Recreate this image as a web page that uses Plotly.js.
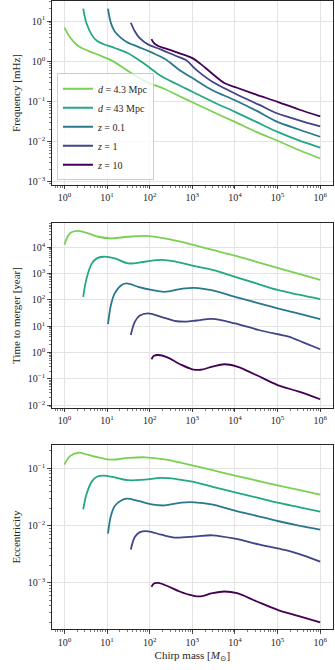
<!DOCTYPE html>
<html>
<head>
<meta charset="utf-8">
<script src="https://cdn.plot.ly/plotly-3.0.1.min.js"></script>
<style>
  html, body { margin: 0; padding: 0; background: #fff; }
  #chart { width: 335px; height: 670px; }
</style>
</head>
<body>
<div id="chart"></div>
<script>
// chirp mass samples [Msun] for each source
const massNear = [1, 1.35, 2.1, 3.6, 6.2, 12.6, 31, 79, 224, 500, 1000, 3160, 1e4, 3.16e4, 1e5, 3.16e5, 1e6];
const freqNear = [6.9, 3.98, 2.4, 1.82, 1.45, 1.05, 0.575, 0.316, 0.204, 0.135, 0.0955, 0.0537, 0.0309, 0.0174, 0.0105, 0.00617, 0.0038];
const timeNear = [12600, 33900, 41700, 33900, 25100, 21900, 25100, 26900, 21900, 16600, 12600, 7760, 4790, 2820, 1660, 977, 575];
const eccNear = [0.116, 0.162, 0.186, 0.170, 0.155, 0.141, 0.151, 0.155, 0.143, 0.126, 0.112, 0.0912, 0.0741, 0.0610, 0.0501, 0.0417, 0.0347];

const massMid = [2.75, 3.3, 4.4, 5.75, 8.1, 15.1, 31, 76, 186, 417, 1000, 3160, 1e4, 3.16e4, 1e5, 3.16e5, 1e6];
const freqMid = [20.4, 8.7, 4.47, 3.24, 2.69, 2.14, 1.58, 0.85, 0.427, 0.275, 0.174, 0.0955, 0.055, 0.0309, 0.0174, 0.0107, 0.0071];
const timeMid = [132, 661, 2450, 3800, 4370, 3800, 2450, 2820, 3310, 2820, 2000, 1350, 759, 427, 240, 158, 107];
const eccMid = [0.0191, 0.0355, 0.0589, 0.0708, 0.0741, 0.0692, 0.0617, 0.0631, 0.0676, 0.0646, 0.0582, 0.0468, 0.038, 0.0309, 0.0251, 0.0209, 0.0174];

const massZ01 = [10.5, 12.3, 15.1, 21.9, 28.8, 53.7, 110, 224, 550, 1120, 2820, 1e4, 3.16e4, 1e5, 3.16e5, 1e6];
const freqZ01 = [20.4, 8.9, 5.5, 3.72, 3.02, 2.29, 1.66, 1.15, 0.562, 0.355, 0.195, 0.107, 0.0589, 0.0309, 0.02, 0.0132];
const timeZ01 = [12, 64.6, 178, 372, 427, 316, 240, 204, 263, 288, 234, 132, 79.4, 47.9, 30.2, 18.6];
const eccZ01 = [0.00724, 0.0148, 0.0219, 0.0275, 0.0295, 0.0269, 0.0234, 0.0224, 0.0251, 0.0254, 0.0234, 0.0182, 0.0148, 0.012, 0.01, 0.0085];

const massZ1 = [36, 44.7, 57.5, 91, 186, 380, 708, 1260, 2950, 1e4, 3.63e4, 1e5, 1.82e5, 3.98e5, 1e6];
const freqZ1 = [9.1, 5.6, 3.8, 2.63, 1.95, 1.41, 1.07, 0.603, 0.309, 0.158, 0.0832, 0.0501, 0.0407, 0.0316, 0.024];
const timeZ1 = [4.68, 14.8, 25.1, 30.9, 22.9, 16.2, 15.1, 16.6, 19.1, 12.9, 7.24, 5.0, 4.07, 2.45, 1.35];
const eccZ1 = [0.0038, 0.0063, 0.00759, 0.00794, 0.00692, 0.00617, 0.0063, 0.00646, 0.00676, 0.00589, 0.00468, 0.00398, 0.00363, 0.00302, 0.00234];

const massZ10 = [110, 126, 158, 251, 501, 1000, 1580, 2950, 5620, 11200, 31600, 1e5, 3.16e5, 1e6];
const freqZ10 = [3.55, 2.82, 2.40, 2.04, 1.58, 1.2, 0.85, 0.49, 0.288, 0.219, 0.148, 0.0977, 0.063, 0.0427];
const timeZ10 = [0.562, 0.759, 0.813, 0.676, 0.372, 0.234, 0.224, 0.295, 0.363, 0.295, 0.141, 0.0589, 0.0331, 0.017];
const eccZ10 = [0.000851, 0.000977, 0.001, 0.000891, 0.000708, 0.000603, 0.000582, 0.000661, 0.000708, 0.000661, 0.000479, 0.000339, 0.000263, 0.000204];

const sourceNames = ['<i>d</i> = 4.3 Mpc', '<i>d</i> = 43 Mpc', '<i>z</i> = 0.1', '<i>z</i> = 1', '<i>z</i> = 10'];
const sourceColors = ['#7ad151', '#22a884', '#2a788e', '#414487', '#440154'];

const massTicks = [1, 10, 100, 1e3, 1e4, 1e5, 1e6];
const massTickText = ['10<sup>0</sup>', '10<sup>1</sup>', '10<sup>2</sup>', '10<sup>3</sup>', '10<sup>4</sup>', '10<sup>5</sup>', '10<sup>6</sup>'];
const freqTicks = [1e-3, 1e-2, 1e-1, 1, 10];
const freqTickText = ['10<sup>−3</sup>', '10<sup>−2</sup>', '10<sup>−1</sup>', '10<sup>0</sup>', '10<sup>1</sup>'];
const timeTicks = [1e-2, 1e-1, 1, 10, 100, 1e3, 1e4];
const timeTickText = ['10<sup>−2</sup>', '10<sup>−1</sup>', '10<sup>0</sup>', '10<sup>1</sup>', '10<sup>2</sup>', '10<sup>3</sup>', '10<sup>4</sup>'];
const eccTicks = [1e-3, 1e-2, 1e-1];
const eccTickText = ['10<sup>−3</sup>', '10<sup>−2</sup>', '10<sup>−1</sup>'];

const masses = [massNear, massMid, massZ01, massZ1, massZ10];
const panelValues = [
    [freqNear, freqMid, freqZ01, freqZ1, freqZ10],
    [timeNear, timeMid, timeZ01, timeZ1, timeZ10],
    [eccNear, eccMid, eccZ01, eccZ1, eccZ10]
];
const panelAxes = [['x', 'y'], ['x2', 'y2'], ['x3', 'y3']];

const font = 'Liberation Serif, DejaVu Serif, serif';
const ink = '#262626';

const traces = [];
panelValues.forEach((series, p) => {
    series.forEach((vals, i) => {
        traces.push({
            x: masses[i],
            y: vals,
            xaxis: panelAxes[p][0],
            yaxis: panelAxes[p][1],
            mode: 'lines',
            name: sourceNames[i],
            legendgroup: 'src' + i,
            showlegend: p === 0,
            line: { color: sourceColors[i], width: 1.8, shape: 'spline', smoothing: 1 },
            hoverinfo: 'skip'
        });
    });
});

function axisBase() {
    return {
        type: 'log',
        ticks: 'outside',
        ticklen: 3.5,
        tickwidth: 0.8,
        tickcolor: ink,
        showline: true,
        mirror: true,
        linecolor: ink,
        linewidth: 1,
        showgrid: true,
        gridcolor: '#e3e3e3',
        gridwidth: 1,
        zeroline: false,
        tickmode: 'array',
        tickfont: { family: font, size: 10, color: ink },
        minor: { ticks: 'outside', ticklen: 2, tickwidth: 0.6, tickcolor: ink, dtick: 'D1', showgrid: false }
    };
}

function xAxis(anchor, title) {
    const ax = axisBase();
    ax.anchor = anchor;
    ax.domain = [0.1543, 0.994];
    ax.range = [-0.3, 6.3];
    ax.tickvals = massTicks;
    ax.ticktext = massTickText;
    if (title) ax.title = { text: title, font: { family: font, size: 11, color: ink }, standoff: 4 };
    return ax;
}

function yAxis(anchor, domain, range, vals, text, title) {
    const ax = axisBase();
    ax.anchor = anchor;
    ax.domain = domain;
    ax.range = range;
    ax.tickvals = vals;
    ax.ticktext = text;
    ax.title = { text: title, font: { family: font, size: 11, color: ink } };
    return ax;
}

const layout = {
    width: 335,
    height: 670,
    margin: { l: 0, r: 0, t: 0, b: 0 },
    paper_bgcolor: '#fff',
    plot_bgcolor: '#fff',
    font: { family: font, color: ink },
    xaxis: xAxis('y'),
    xaxis2: xAxis('y2'),
    xaxis3: xAxis('y3', 'Chirp mass [<i>M</i><sub>⊙</sub>]'),
    yaxis: yAxis('x', [0.7239, 0.9985], [-3.08, 1.5], freqTicks, freqTickText, 'Frequency [mHz]'),
    yaxis2: yAxis('x2', [0.3915, 0.6667], [-2.09, 4.91], timeTicks, timeTickText, 'Time to merger [year]'),
    yaxis3: yAxis('x3', [0.0607, 0.3363], [-3.81, -0.59], eccTicks, eccTickText, 'Eccentricity'),
    legend: {
        x: 0.17, y: 0.731, xanchor: 'left', yanchor: 'bottom',
        bgcolor: 'rgba(255,255,255,0.8)',
        bordercolor: '#cccccc',
        borderwidth: 1,
        font: { family: font, size: 10, color: ink },
        itemwidth: 30,
        tracegroupgap: 0
    },
    showlegend: true
};

Plotly.newPlot('chart', traces, layout, { displayModeBar: false, staticPlot: true });
</script>
</body>
</html>
